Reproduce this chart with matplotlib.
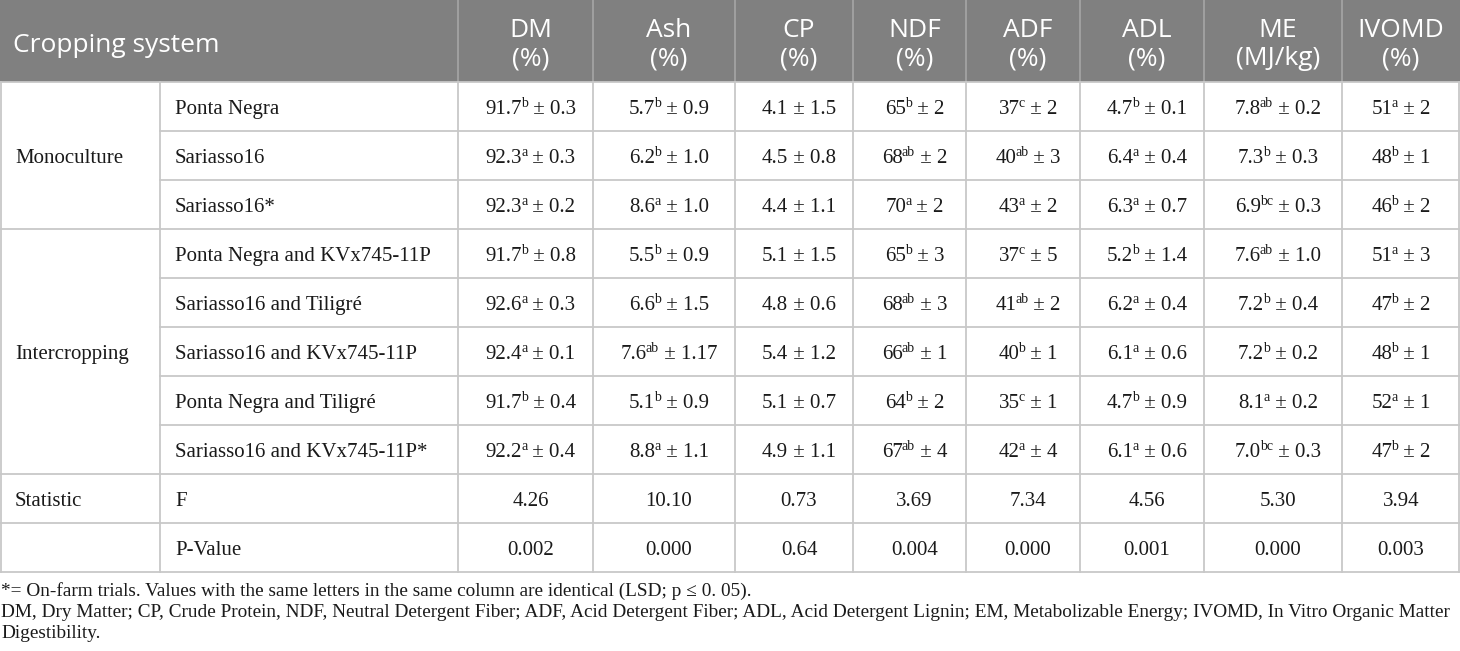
import matplotlib
matplotlib.use("Agg")
import matplotlib.pyplot as plt

# ---------------- data ----------------
header_first = "Cropping system"
col_names = ["DM", "Ash", "CP", "NDF", "ADF", "ADL", "ME", "IVOMD"]
col_units = ["(%)", "(%)", "(%)", "(%)", "(%)", "(%)", "(MJ/kg)", "(%)"]
groups = ["Monoculture", "Intercropping"]
group_sizes = [3, 5]
systems = ["Ponta Negra", "Sariasso16", "Sariasso16*",
           "Ponta Negra and KVx745-11P", "Sariasso16 and Tiligré",
           "Sariasso16 and KVx745-11P", "Ponta Negra and Tiligré",
           "Sariasso16 and KVx745-11P*"]

dm_mean = ["91.7", "92.3", "92.3", "91.7", "92.6", "92.4", "91.7", "92.2"]
dm_letter = ["b", "a", "a", "b", "a", "a", "b", "a"]
dm_sd = ["0.3", "0.3", "0.2", "0.8", "0.3", "0.1", "0.4", "0.4"]

ash_mean = ["5.7", "6.2", "8.6", "5.5", "6.6", "7.6", "5.1", "8.8"]
ash_letter = ["b", "b", "a", "b", "b", "ab", "b", "a"]
ash_sd = ["0.9", "1.0", "1.0", "0.9", "1.5", "1.17", "0.9", "1.1"]

cp_mean = ["4.1", "4.5", "4.4", "5.1", "4.8", "5.4", "5.1", "4.9"]
cp_letter = ["", "", "", "", "", "", "", ""]
cp_sd = ["1.5", "0.8", "1.1", "1.5", "0.6", "1.2", "0.7", "1.1"]

ndf_mean = ["65", "68", "70", "65", "68", "66", "64", "67"]
ndf_letter = ["b", "ab", "a", "b", "ab", "ab", "b", "ab"]
ndf_sd = ["2", "2", "2", "3", "3", "1", "2", "4"]

adf_mean = ["37", "40", "43", "37", "41", "40", "35", "42"]
adf_letter = ["c", "ab", "a", "c", "ab", "b", "c", "a"]
adf_sd = ["2", "3", "2", "5", "2", "1", "1", "4"]

adl_mean = ["4.7", "6.4", "6.3", "5.2", "6.2", "6.1", "4.7", "6.1"]
adl_letter = ["b", "a", "a", "b", "a", "a", "b", "a"]
adl_sd = ["0.1", "0.4", "0.7", "1.4", "0.4", "0.6", "0.9", "0.6"]

me_mean = ["7.8", "7.3", "6.9", "7.6", "7.2", "7.2", "8.1", "7.0"]
me_letter = ["ab", "b", "bc", "ab", "b", "b", "a", "bc"]
me_sd = ["0.2", "0.3", "0.3", "1.0", "0.4", "0.2", "0.2", "0.3"]

ivomd_mean = ["51", "48", "46", "51", "47", "48", "52", "47"]
ivomd_letter = ["a", "b", "b", "a", "b", "b", "a", "b"]
ivomd_sd = ["2", "1", "2", "3", "2", "1", "1", "2"]

stat_group = "Statistic"
stat_labels = ["F", "P-Value"]
f_values = ["4.26", "10.10", "0.73", "3.69", "7.34", "4.56", "5.30", "3.94"]
p_values = ["0.002", "0.000", "0.64", "0.004", "0.000", "0.001", "0.000", "0.003"]

footnotes = [
    "*= On-farm trials. Values with the same letters in the same column are identical (LSD; p \u2264 0. 05).",
    "DM, Dry Matter; CP, Crude Protein, NDF, Neutral Detergent Fiber; ADF, Acid Detergent Fiber; ADL, Acid Detergent Lignin; EM, Metabolizable Energy; IVOMD, In Vitro Organic Matter",
    "Digestibility.",
]

means = [dm_mean, ash_mean, cp_mean, ndf_mean, adf_mean, adl_mean, me_mean, ivomd_mean]
letters = [dm_letter, ash_letter, cp_letter, ndf_letter, adf_letter, adl_letter, me_letter, ivomd_letter]
sds = [dm_sd, ash_sd, cp_sd, ndf_sd, adf_sd, adl_sd, me_sd, ivomd_sd]

# ---------------- layout ----------------
W, H = 1460, 651
col_edges = [0, 160, 458, 593, 735, 853, 966, 1080, 1204, 1342, 1460]
header_h = 82
row_h = 49
n_rows = len(systems) + len(stat_labels)
row_edges = [header_h + row_h * k for k in range(n_rows + 1)]
base_off = 7.5
xshift = 5

fig = plt.figure(figsize=(W / 100, H / 100), dpi=100)
ax = fig.add_axes([0, 0, 1, 1])
ax.set_xlim(0, W)
ax.set_ylim(H, 0)
ax.axis('off')
renderer = fig.canvas.get_renderer()

header_bg = '#808080'
header_sep = '#a6a6a6'
grid = '#c8c8c8'
txt = '#1a1a1a'
body_font = 'Liberation Serif'
head_font = 'Open Sans'
body_fs = 15
sup_fs = 10
sup_rise = 7
head_fs = 19


def width_of(t):
    bb = t.get_window_extent(renderer=renderer)
    return bb.width


def cell_value(xc, yb, mean, letter, sd):
    """Draw 'mean^letter ± sd' centred at xc with baseline yb."""
    parts = []
    t1 = ax.text(0, yb, mean, fontsize=body_fs, family=body_font, color=txt,
                 va='baseline', ha='left')
    parts.append((t1, -1.0 if letter else 0))
    if letter:
        t2 = ax.text(0, yb - sup_rise, letter, fontsize=sup_fs, family=body_font,
                     color=txt, va='baseline', ha='left')
        parts.append((t2, 0))
    t3 = ax.text(0, yb, " \u00b1 " + sd, fontsize=body_fs, family=body_font,
                 color=txt, va='baseline', ha='left')
    parts.append((t3, 0))
    widths = [width_of(p[0]) + p[1] for p in parts]
    total = sum(widths)
    x = xc - total / 2
    for (t, _), w in zip(parts, widths):
        t.set_x(x)
        x += w


# header
ax.add_patch(plt.Rectangle((0, 0), W, header_h, color=header_bg, lw=0))
for x in col_edges[2:-1]:
    ax.plot([x, x], [0, header_h], color=header_sep, lw=1.2)
ax.text(13, 52, header_first, color='white', fontsize=head_fs,
        family=head_font, va='baseline', ha='left')
for j, (cn, cu) in enumerate(zip(col_names, col_units)):
    xc = (col_edges[j + 2] + col_edges[j + 3]) / 2 + (xshift if j < 7 else 0)
    ax.text(xc, 37, cn, color='white', fontsize=head_fs,
            family=head_font, va='baseline', ha='center')
    ax.text(xc, 65, cu, color='white', fontsize=head_fs,
            family=head_font, va='baseline', ha='center')

# grid lines
lw = 1.3
group_bounds = [0, 3, 8, 9, 10]
for k, y in enumerate(row_edges):
    if k in group_bounds:
        ax.plot([0, W], [y, y], color=grid, lw=lw)
    else:
        ax.plot([col_edges[1], W], [y, y], color=grid, lw=lw)
for x in col_edges[1:-1]:
    ax.plot([x, x], [header_h, row_edges[-1]], color=grid, lw=lw)
ax.plot([0.6, 0.6], [header_h, row_edges[-1]], color=grid, lw=lw)
ax.plot([W - 0.6, W - 0.6], [header_h, row_edges[-1]], color=grid, lw=lw)

# group labels
start = 0
for g, n in zip(groups, group_sizes):
    yc = (row_edges[start] + row_edges[start + n]) / 2
    ax.text(15, yc + base_off, g, fontsize=body_fs, family=body_font, color=txt,
            va='baseline', ha='left')
    start += n
ax.text(15, (row_edges[8] + row_edges[9]) / 2 + base_off, stat_group, fontsize=body_fs,
        family=body_font, color=txt, va='baseline', ha='left')

# system names and values
for i, s in enumerate(systems):
    yb = (row_edges[i] + row_edges[i + 1]) / 2 + base_off
    ax.text(175, yb, s, fontsize=body_fs, family=body_font, color=txt,
            va='baseline', ha='left')
    for j in range(len(col_names)):
        xc = (col_edges[j + 2] + col_edges[j + 3]) / 2 + (xshift if j < 7 else 0)
        cell_value(xc, yb, means[j][i], letters[j][i], sds[j][i])

for r, (lab, vals) in enumerate(zip(stat_labels, [f_values, p_values])):
    i = len(systems) + r
    yb = (row_edges[i] + row_edges[i + 1]) / 2 + base_off
    ax.text(175, yb, lab, fontsize=body_fs, family=body_font, color=txt,
            va='baseline', ha='left')
    for j in range(len(col_names)):
        xc = (col_edges[j + 2] + col_edges[j + 3]) / 2 + (xshift if j < 7 else 0)
        ax.text(xc, yb, vals[j], fontsize=body_fs, family=body_font, color=txt,
                va='baseline', ha='center')

# footnotes
for k, fn in enumerate(footnotes):
    ax.text(1, 596 + 21 * k, fn, fontsize=13.9, family=body_font, color=txt,
            va='baseline', ha='left')

fig.savefig('out.png', dpi=100)
